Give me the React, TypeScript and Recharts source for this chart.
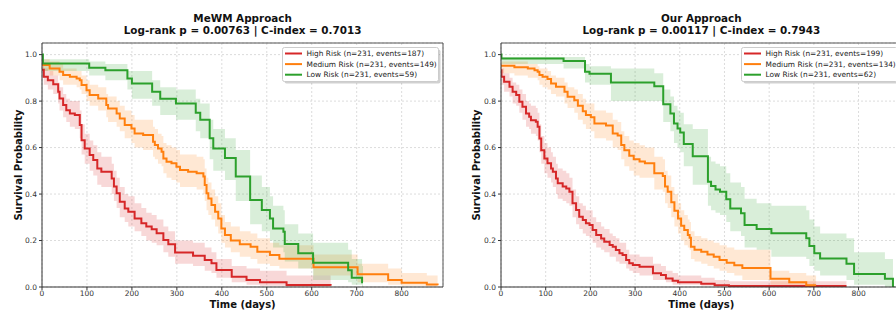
import React from "react";
import { ComposedChart, Line, Area, XAxis, YAxis, CartesianGrid, ReferenceLine, Legend } from "recharts";

// [time (days), survival, 95% CI lower, 95% CI upper]
type Pt = [number, number, number, number];

const mewmHigh: Pt[] = [
  [0, 0.935, 0.9, 0.96], [4, 0.905, 0.87, 0.94], [13, 0.89, 0.85, 0.93], [25, 0.872, 0.83, 0.91],
  [36, 0.84, 0.79, 0.88], [39, 0.811, 0.76, 0.86], [47, 0.783, 0.73, 0.83], [54, 0.761, 0.71, 0.81],
  [62, 0.747, 0.69, 0.8], [73, 0.74, 0.68, 0.8], [84, 0.697, 0.64, 0.76], [88, 0.632, 0.57, 0.7],
  [95, 0.596, 0.53, 0.66], [106, 0.568, 0.5, 0.63], [114, 0.546, 0.48, 0.61], [123, 0.51, 0.44, 0.58],
  [132, 0.496, 0.43, 0.56], [155, 0.467, 0.4, 0.53], [160, 0.432, 0.37, 0.5], [166, 0.403, 0.34, 0.47],
  [173, 0.367, 0.3, 0.43], [184, 0.338, 0.28, 0.4], [192, 0.324, 0.26, 0.39], [206, 0.295, 0.24, 0.36],
  [221, 0.274, 0.22, 0.34], [232, 0.26, 0.2, 0.32], [244, 0.249, 0.19, 0.31], [255, 0.231, 0.18, 0.29],
  [270, 0.202, 0.15, 0.26], [281, 0.184, 0.13, 0.24], [296, 0.149, 0.1, 0.2], [336, 0.135, 0.09, 0.19],
  [362, 0.116, 0.07, 0.17], [377, 0.102, 0.06, 0.15], [388, 0.073, 0.04, 0.12], [422, 0.044, 0.02, 0.09],
  [455, 0.03, 0.01, 0.08], [485, 0.02, 0.005, 0.07], [544, 0.009, 0, 0.05], [642, 0.005, 0, 0.04],
];

const mewmMedium: Pt[] = [
  [0, 0.955, 0.93, 0.98], [17, 0.94, 0.91, 0.97], [39, 0.926, 0.89, 0.96], [47, 0.912, 0.87, 0.94],
  [62, 0.905, 0.87, 0.94], [77, 0.897, 0.86, 0.93], [84, 0.89, 0.85, 0.93], [88, 0.869, 0.83, 0.91],
  [99, 0.847, 0.8, 0.89], [106, 0.826, 0.78, 0.87], [125, 0.811, 0.76, 0.86], [143, 0.783, 0.73, 0.83],
  [147, 0.768, 0.71, 0.82], [166, 0.747, 0.69, 0.8], [173, 0.725, 0.67, 0.78], [184, 0.697, 0.64, 0.76],
  [199, 0.682, 0.62, 0.74], [206, 0.661, 0.6, 0.72], [225, 0.654, 0.59, 0.72], [247, 0.625, 0.56, 0.69],
  [251, 0.611, 0.55, 0.68], [258, 0.596, 0.53, 0.66], [266, 0.582, 0.52, 0.65], [270, 0.553, 0.49, 0.62],
  [277, 0.539, 0.47, 0.61], [288, 0.532, 0.46, 0.6], [299, 0.518, 0.45, 0.59], [307, 0.503, 0.43, 0.57],
  [325, 0.496, 0.43, 0.57], [344, 0.489, 0.42, 0.56], [359, 0.475, 0.4, 0.55], [362, 0.439, 0.37, 0.51],
  [366, 0.403, 0.33, 0.47], [370, 0.381, 0.31, 0.45], [377, 0.353, 0.29, 0.42], [385, 0.324, 0.26, 0.39],
  [392, 0.295, 0.23, 0.36], [399, 0.252, 0.19, 0.31], [407, 0.224, 0.17, 0.28], [420, 0.2, 0.15, 0.26],
  [440, 0.184, 0.13, 0.24], [464, 0.173, 0.12, 0.23], [479, 0.152, 0.1, 0.21], [507, 0.138, 0.09, 0.19],
  [528, 0.122, 0.08, 0.18], [604, 0.085, 0.05, 0.14], [702, 0.055, 0.02, 0.1], [770, 0.03, 0.01, 0.08],
  [800, 0.018, 0.005, 0.06], [856, 0.011, 0.002, 0.05], [880, 0.007, 0, 0.04],
];

const mewmLow: Pt[] = [
  [0, 1, 1, 1], [2, 0.962, 0.93, 0.98], [105, 0.943, 0.91, 0.97], [141, 0.933, 0.89, 0.96],
  [190, 0.897, 0.85, 0.93], [200, 0.876, 0.81, 0.93], [245, 0.84, 0.78, 0.89], [263, 0.81, 0.74, 0.86],
  [298, 0.79, 0.72, 0.85], [342, 0.75, 0.67, 0.81], [352, 0.72, 0.64, 0.79], [373, 0.64, 0.55, 0.72],
  [381, 0.596, 0.5, 0.68], [407, 0.555, 0.46, 0.64], [431, 0.475, 0.37, 0.59], [463, 0.374, 0.27, 0.48],
  [489, 0.331, 0.24, 0.43], [507, 0.295, 0.2, 0.39], [514, 0.252, 0.17, 0.35], [537, 0.238, 0.15, 0.33],
  [540, 0.185, 0.11, 0.27], [570, 0.145, 0.08, 0.23], [603, 0.104, 0.03, 0.19], [681, 0.072, 0.02, 0.16],
  [689, 0.04, 0.01, 0.12], [712, 0.02, 0, 0.09], [714, 0.02, 0, 0.09],
];

const oursHigh: Pt[] = [
  [0, 0.933, 0.9, 0.96], [1, 0.905, 0.87, 0.94], [7, 0.883, 0.84, 0.92], [19, 0.862, 0.82, 0.9],
  [26, 0.84, 0.79, 0.88], [34, 0.826, 0.78, 0.87], [41, 0.797, 0.75, 0.85], [48, 0.776, 0.72, 0.83],
  [56, 0.747, 0.69, 0.8], [63, 0.733, 0.68, 0.79], [67, 0.718, 0.66, 0.78], [78, 0.711, 0.65, 0.77],
  [82, 0.69, 0.63, 0.75], [86, 0.639, 0.58, 0.7], [90, 0.589, 0.53, 0.65], [97, 0.553, 0.49, 0.62],
  [104, 0.532, 0.47, 0.6], [112, 0.51, 0.45, 0.58], [116, 0.496, 0.43, 0.56], [123, 0.467, 0.4, 0.53],
  [127, 0.446, 0.38, 0.51], [138, 0.432, 0.37, 0.5], [146, 0.424, 0.36, 0.49], [153, 0.41, 0.35, 0.47],
  [160, 0.36, 0.3, 0.42], [168, 0.331, 0.27, 0.39], [175, 0.302, 0.25, 0.36], [183, 0.288, 0.23, 0.35],
  [190, 0.274, 0.22, 0.33], [198, 0.267, 0.21, 0.33], [205, 0.245, 0.19, 0.3], [213, 0.224, 0.17, 0.28],
  [224, 0.209, 0.16, 0.26], [231, 0.195, 0.15, 0.25], [243, 0.181, 0.13, 0.23], [250, 0.173, 0.13, 0.22],
  [257, 0.159, 0.11, 0.21], [265, 0.145, 0.1, 0.19], [272, 0.138, 0.1, 0.19], [280, 0.116, 0.08, 0.16],
  [287, 0.102, 0.07, 0.14], [295, 0.095, 0.06, 0.14], [310, 0.087, 0.05, 0.13], [340, 0.059, 0.03, 0.1],
  [358, 0.052, 0.03, 0.09], [369, 0.037, 0.02, 0.07], [384, 0.027, 0.01, 0.06], [396, 0.02, 0.01, 0.05],
  [448, 0.014, 0.005, 0.04], [478, 0.008, 0.002, 0.03], [510, 0.004, 0, 0.025], [773, 0.004, 0, 0.025],
];

const oursMedium: Pt[] = [
  [0, 0.952, 0.92, 0.97], [30, 0.946, 0.91, 0.97], [60, 0.94, 0.9, 0.96], [75, 0.933, 0.9, 0.96],
  [82, 0.926, 0.89, 0.95], [86, 0.912, 0.87, 0.94], [93, 0.905, 0.86, 0.94], [104, 0.895, 0.85, 0.93],
  [112, 0.876, 0.83, 0.91], [123, 0.862, 0.82, 0.9], [142, 0.84, 0.79, 0.88], [149, 0.819, 0.77, 0.86],
  [164, 0.804, 0.75, 0.85], [172, 0.78, 0.72, 0.83], [183, 0.756, 0.7, 0.81], [190, 0.74, 0.68, 0.79],
  [201, 0.73, 0.67, 0.79], [209, 0.704, 0.64, 0.76], [235, 0.695, 0.63, 0.75], [250, 0.661, 0.6, 0.72],
  [261, 0.652, 0.59, 0.71], [269, 0.611, 0.55, 0.67], [276, 0.589, 0.52, 0.65], [287, 0.565, 0.5, 0.63],
  [297, 0.55, 0.48, 0.62], [310, 0.54, 0.47, 0.61], [322, 0.533, 0.47, 0.6], [343, 0.49, 0.42, 0.56],
  [362, 0.478, 0.41, 0.55], [367, 0.432, 0.36, 0.5], [373, 0.41, 0.34, 0.48], [381, 0.365, 0.3, 0.43],
  [388, 0.328, 0.26, 0.4], [396, 0.295, 0.23, 0.36], [403, 0.264, 0.2, 0.33], [410, 0.245, 0.18, 0.31],
  [418, 0.224, 0.17, 0.29], [422, 0.212, 0.16, 0.28], [425, 0.173, 0.12, 0.24], [433, 0.16, 0.11, 0.22],
  [448, 0.152, 0.1, 0.21], [462, 0.14, 0.09, 0.2], [476, 0.13, 0.08, 0.19], [489, 0.116, 0.07, 0.18],
  [505, 0.104, 0.06, 0.17], [522, 0.094, 0.05, 0.16], [540, 0.082, 0.03, 0.16], [603, 0.036, 0.01, 0.07],
  [645, 0.02, 0.005, 0.06], [683, 0.008, 0, 0.05], [705, 0.008, 0, 0.05],
];

const oursLow: Pt[] = [
  [0, 1, 1, 1], [1, 0.983, 0.96, 0.99], [140, 0.973, 0.94, 0.99], [188, 0.926, 0.88, 0.96],
  [198, 0.918, 0.87, 0.95], [246, 0.88, 0.8, 0.94], [343, 0.864, 0.8, 0.92], [363, 0.786, 0.71, 0.85],
  [379, 0.747, 0.67, 0.82], [387, 0.704, 0.62, 0.78], [395, 0.682, 0.6, 0.76], [401, 0.665, 0.58, 0.75],
  [409, 0.615, 0.52, 0.7], [429, 0.563, 0.44, 0.68], [463, 0.453, 0.35, 0.56], [470, 0.435, 0.33, 0.54],
  [480, 0.42, 0.32, 0.53], [490, 0.41, 0.31, 0.52], [504, 0.378, 0.28, 0.49], [513, 0.338, 0.24, 0.45],
  [537, 0.317, 0.22, 0.43], [545, 0.267, 0.17, 0.38], [572, 0.25, 0.16, 0.36], [605, 0.231, 0.13, 0.35],
  [683, 0.21, 0.12, 0.33], [690, 0.176, 0.09, 0.29], [701, 0.145, 0.07, 0.26], [714, 0.123, 0.05, 0.23],
  [773, 0.1, 0.03, 0.21], [790, 0.056, 0.01, 0.15], [859, 0.035, 0, 0.12], [877, 0, 0, 0], [880, 0, 0, 0],
];

const xTicks = [0, 100, 200, 300, 400, 500, 600, 700, 800];
const yTicks = [0, 0.2, 0.4, 0.6, 0.8, 1.0];
const riskNames = ["High Risk", "Medium Risk", "Low Risk"];
const riskColors = ["#d62728", "#ff7f0e", "#2ca02c"];
const groupSize = 231;
const mewmEvents = [187, 149, 59];
const oursEvents = [199, 134, 62];

const FONT = "DejaVu Sans";

const toRows = (pts: Pt[]) => pts.map(([t, s, lo, hi]) => ({ t, s, ci: [lo, hi] }));

function LegendBox({ events }: { events: number[] }) {
  return (
    <svg width={160} height={38} style={{ display: "block", overflow: "visible" }}>
      <rect x={2.5} y={2.5} width={156} height={34} rx={2} fill="#000" fillOpacity={0.18} />
      <rect x={0.5} y={0.5} width={156} height={34} rx={2} fill="#fff" stroke="#cccccc" strokeWidth={1} />
      {riskNames.map((name, i) => (
        <g key={name}>
          <line x1={3} x2={20} y1={6.5 + i * 10.6} y2={6.5 + i * 10.6} stroke={riskColors[i]} strokeWidth={2} />
          <text x={24.5} y={6.5 + i * 10.6} dy="0.35em" fontSize={7.4} fontFamily={FONT} fill="#222">
            {`${name} (n=${groupSize}, events=${events[i]})`}
          </text>
        </g>
      ))}
    </svg>
  );
}

type PanelProps = {
  left: number;
  width: number;
  yAxisWidth: number;
  marginRight: number;
  xMax: number;
  legendLeft: number;
  series: Pt[][];
  events: number[];
};

function KMPanel({ left, width, yAxisWidth, marginRight, xMax, legendLeft, series, events }: PanelProps) {
  const tickStyle = { fontSize: 7.5, fill: "#333", fontFamily: FONT };
  return (
    <div style={{ position: "absolute", left, top: 0 }}>
      <ComposedChart width={width} height={310} margin={{ top: 43, right: marginRight, bottom: 3, left: 0 }}>
        <CartesianGrid stroke="#dcdcdc" strokeDasharray="2 2" />
        <XAxis
          type="number"
          dataKey="t"
          domain={[0, xMax]}
          ticks={xTicks}
          interval={0}
          allowDataOverflow
          height={20}
          tickSize={3}
          tickMargin={1}
          tick={tickStyle}
          stroke="#333"
        />
        <YAxis
          type="number"
          domain={[0, 1.05]}
          ticks={yTicks}
          interval={0}
          allowDataOverflow
          width={yAxisWidth}
          tickSize={3}
          tickMargin={2}
          tick={tickStyle}
          tickFormatter={(v: number) => v.toFixed(1)}
          stroke="#333"
        />
        <ReferenceLine y={1.05} stroke="#555" ifOverflow="visible" />
        <ReferenceLine x={xMax} stroke="#555" ifOverflow="visible" />
        {series.map((pts, i) => [
          <Line
            key={`l${i}`}
            data={toRows(pts)}
            dataKey="s"
            type="stepAfter"
            stroke={riskColors[i]}
            strokeWidth={2}
            dot={false}
            activeDot={false}
            isAnimationActive={false}
            legendType="none"
          />,
          <Area
            key={`a${i}`}
            data={toRows(pts)}
            dataKey="ci"
            type="stepAfter"
            stroke="none"
            fill={riskColors[i]}
            fillOpacity={0.18}
            activeDot={false}
            isAnimationActive={false}
            legendType="none"
          />,
        ])}
        <Legend
          layout="horizontal"
          verticalAlign="middle"
          align="center"
          wrapperStyle={{ left: legendLeft, top: 47, width: 160, height: 38 }}
          content={() => <LegendBox events={events} />}
        />
      </ComposedChart>
    </div>
  );
}

export default function App() {
  const titleStyle = { fontSize: 10.4, fontWeight: 700, fontFamily: FONT, fill: "#111" } as const;
  const labelStyle = { fontSize: 10, fontWeight: 700, fontFamily: FONT, fill: "#111" } as const;
  return (
    <div style={{ position: "absolute", left: 0, top: 0, width: 896, height: 310, overflow: "hidden", background: "#fff" }}>
      <KMPanel left={0} width={448} yAxisWidth={42} marginRight={5} xMax={892} legendLeft={282}
        series={[mewmHigh, mewmMedium, mewmLow]} events={mewmEvents} />
      <KMPanel left={448} width={460} yAxisWidth={53} marginRight={7} xMax={895} legendLeft={293}
        series={[oursHigh, oursMedium, oursLow]} events={oursEvents} />
      <svg width={896} height={310} style={{ position: "absolute", left: 0, top: 0, pointerEvents: "none" }}>
        <text x={242.6} y={21.7} textAnchor="middle" {...titleStyle}>MeWM Approach</text>
        <text x={242.6} y={34} textAnchor="middle" {...titleStyle}>Log-rank p = 0.00763 | C-index = 0.7013</text>
        <text x={242.6} y={308} textAnchor="middle" {...labelStyle}>Time (days)</text>
        <text x={21.5} y={165} textAnchor="middle" transform="rotate(-90, 21.5, 165)" {...labelStyle}>Survival Probability</text>
        <text x={701.3} y={21.7} textAnchor="middle" {...titleStyle}>Our Approach</text>
        <text x={701.3} y={34} textAnchor="middle" {...titleStyle}>Log-rank p = 0.00117 | C-index = 0.7943</text>
        <text x={701.3} y={308} textAnchor="middle" {...labelStyle}>Time (days)</text>
        <text x={480.3} y={165} textAnchor="middle" transform="rotate(-90, 480.3, 165)" {...labelStyle}>Survival Probability</text>
      </svg>
    </div>
  );
}
